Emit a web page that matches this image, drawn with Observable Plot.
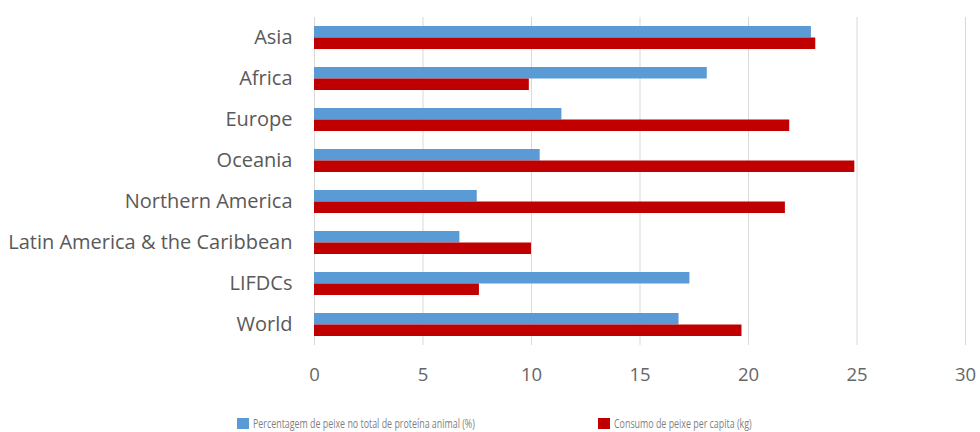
<!DOCTYPE html>
<html>
<head>
<meta charset="utf-8">
<script src="https://cdn.jsdelivr.net/npm/d3@7"></script>
<script src="https://cdn.jsdelivr.net/npm/@observablehq/plot@0.6"></script>
<style>
  body { margin: 0; background: #fff; }
  #chart svg { display: block; }
  .legend { display: flex; align-items: center; height: 22px; padding-left: 237px;
    font-family: "Open Sans", sans-serif; font-size: 12px; color: #7f7f7f; }
  .legend .item { display: flex; align-items: center; white-space: nowrap; }
  .legend .item:first-child { width: 361px; }
  .legend .sw { width: 12px; height: 11px; margin-right: 4px; flex: none; }
  .legend .txt { display: inline-block; transform: scaleX(0.74); transform-origin: left center; }
</style>
</head>
<body>
<div id="chart"></div>
<div class="legend">
  <div class="item"><span class="sw" style="background:#5B9BD5"></span><span class="txt" id="l1"></span></div>
  <div class="item"><span class="sw" style="background:#C00000"></span><span class="txt" id="l2"></span></div>
</div>
<script>
const categories = ["Asia", "Africa", "Europe", "Oceania", "Northern America", "Latin America & the Caribbean", "LIFDCs", "World"];
const percentProtein = [22.9, 18.1, 11.4, 10.4, 7.5, 6.7, 17.3, 16.8];
const consumption = [23.1, 9.9, 21.9, 24.9, 21.7, 10.0, 7.6, 19.7];
const seriesNames = ["Percentagem de peixe no total de proteína animal (%)", "Consumo de peixe per capita (kg)"];
const seriesColors = ["#5B9BD5", "#C00000"];
const xTicks = [0, 5, 10, 15, 20, 25, 30];

document.getElementById("l1").textContent = seriesNames[0];
document.getElementById("l2").textContent = seriesNames[1];

const blue = categories.map((c, i) => ({category: c, value: percentProtein[i]}));
const red = categories.map((c, i) => ({category: c, value: consumption[i]}));

const chart = Plot.plot({
  width: 980,
  height: 412,
  marginLeft: 314,
  marginRight: 15,
  marginTop: 17,
  marginBottom: 67,
  style: {fontFamily: "'Open Sans', sans-serif", color: "#595959", background: "#fff"},
  x: {domain: [0, 30], ticks: xTicks, label: null, tickSize: 0, tickPadding: 22},
  y: {domain: categories, paddingInner: 0.44, paddingOuter: 0.22, label: null, tickSize: 0, tickPadding: 22},
  marks: [
    Plot.ruleX(xTicks, {stroke: "#d9d9d9", strokeWidth: 1}),
    Plot.barX(blue, {x: "value", y: "category", fill: seriesColors[0], insetBottom: 11.5}),
    Plot.barX(red, {x: "value", y: "category", fill: seriesColors[1], insetTop: 11.5}),
    Plot.axisX({ticks: xTicks, tickSize: 0, tickPadding: 22, fontSize: 18.5, fill: "#666", label: null}),
    Plot.axisY({tickSize: 0, tickPadding: 22, fontSize: 20, fill: "#595959", label: null})
  ]
});
document.getElementById("chart").appendChild(chart);
</script>
</body>
</html>
